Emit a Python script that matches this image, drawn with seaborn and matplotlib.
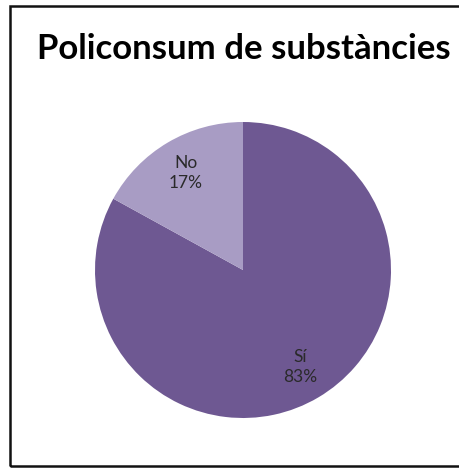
import matplotlib
matplotlib.use("Agg")
import matplotlib.pyplot as plt
import seaborn as sns
from matplotlib.patches import Rectangle

# dades del gràfic
categories = ["Sí", "No"]
percentatges = [83, 17]
colors = ["#6e5892", "#a89cc4"]
title = "Policonsum de substàncies"

sns.set_theme(style="white")
plt.rcParams['font.family'] = ['Lato', 'DejaVu Sans']

fig = plt.figure(figsize=(4.6, 4.7), dpi=100)
fig.patch.set_facecolor("white")

# marc exterior (el costat dret queda fora de la imatge)
fig.patches.append(Rectangle((10 / 460, 4 / 470), 1.2, 1 - 10 / 470,
                             transform=fig.transFigure, fill=False,
                             edgecolor="#111111", linewidth=1.8))

fig.text(37 / 460, (470 - 59) / 470, title, fontsize=25, fontweight="bold",
         color="black", va="baseline", ha="left")

ax = fig.add_axes([(243 - 148) / 460, (470 - 418) / 470, 296 / 460, 296 / 470])


def etiqueta(pct):
    idx = min(range(len(percentatges)), key=lambda i: abs(percentatges[i] - pct))
    return f"{categories[idx]}\n{pct:.0f}%"


wedges, texts, autotexts = ax.pie(percentatges, colors=colors, startangle=90,
                                  counterclock=False, radius=1.0,
                                  autopct=etiqueta, pctdistance=0.76,
                                  wedgeprops=dict(linewidth=0),
                                  textprops=dict(color="#2a2a2a", fontsize=12.5,
                                                 linespacing=1.3))
ax.set_xlim(-1, 1)
ax.set_ylim(-1, 1)
ax.set_aspect("equal")
ax.axis("off")

fig.savefig("out.png", dpi=100, facecolor="white")
